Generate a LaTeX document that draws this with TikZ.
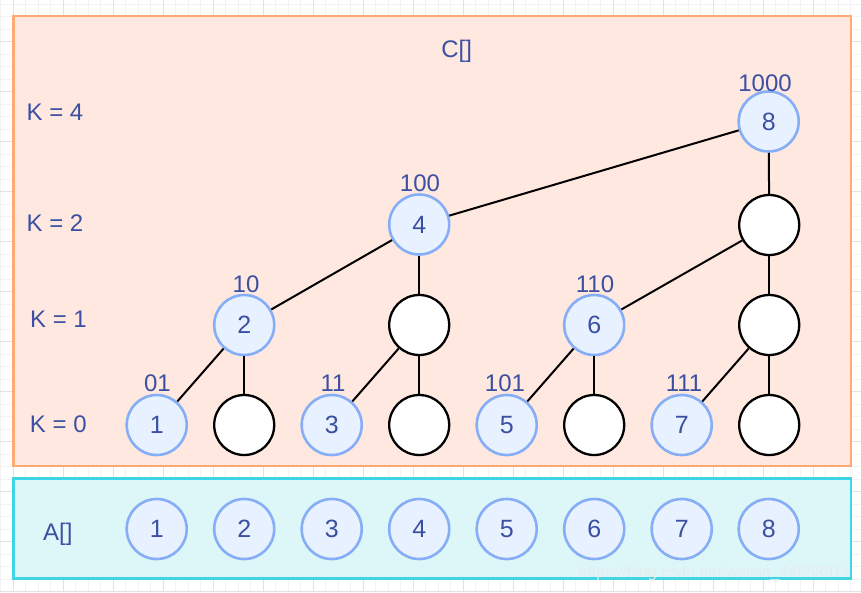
\documentclass[tikz,border=0pt]{standalone}
\usepackage{fontspec}
\setmainfont{Liberation Sans}
\definecolor{tcol}{HTML}{3B50A2}
\definecolor{bfill}{HTML}{E8F1FF}
\definecolor{bstroke}{HTML}{86AEF6}
\definecolor{ofill}{HTML}{FFE8E0}
\definecolor{ostroke}{HTML}{FFAA72}
\definecolor{cfill}{HTML}{DDF6F7}
\definecolor{cstroke}{HTML}{3FD5E5}
\definecolor{gminor}{HTML}{F3F3F3}
\definecolor{gmajor}{HTML}{E2E2E2}
\definecolor{wmcol}{HTML}{E6ECEE}
\begin{document}
\begin{tikzpicture}[x=1pt,y=-1pt,
  bnode/.style={circle,draw=bstroke,fill=bfill,line width=2.6pt,minimum size=60pt,inner sep=0pt,text=tcol,font=\fontsize{25}{29}\selectfont},
  wnode/.style={circle,draw=black,fill=white,line width=2.3pt,minimum size=60pt,inner sep=0pt},
  lbl/.style={text=tcol,font=\fontsize{24}{28}\selectfont,anchor=base,inner sep=0pt},
  edge/.style={draw=black,line width=2pt}]
\useasboundingbox (0,0) rectangle (861,592);
\fill[white] (0,0) rectangle (861,592);
% grid
\foreach \k in {0,...,68} {\draw[gminor,line width=1pt] (0.8+12.5*\k,0) -- (0.8+12.5*\k,592);}
\foreach \k in {0,...,47} {\draw[gminor,line width=1pt] (0,4.2+12.5*\k) -- (861,4.2+12.5*\k);}
\foreach \k in {0,...,16} {\draw[gmajor,line width=1pt] (13.3+50*\k,0) -- (13.3+50*\k,592);}
\foreach \k in {0,...,11} {\draw[gmajor,line width=1pt] (0,41.7+50*\k) -- (861,41.7+50*\k);}
% boxes
\draw[ostroke,fill=ofill,line width=2.6pt] (13.3,16) rectangle (850.8,465.8);
\draw[cstroke,fill=cfill,line width=2.6pt] (13.3,478.5) rectangle (850.8,578.3);
% tree nodes
\node[bnode] (c8) at (768.7,121.5) {8};
\node[wnode] (w2) at (769.2,225) {};
\node[bnode] (c4) at (419.2,224.5) {4};
\node[bnode] (c2) at (244.2,325) {2};
\node[wnode] (w1a) at (419.2,325) {};
\node[bnode] (c6) at (594.2,325) {6};
\node[wnode] (w1b) at (769.2,325) {};
\node[bnode] (c1) at (156.7,425) {1};
\node[wnode] (w0a) at (244.2,425) {};
\node[bnode] (c3) at (331.7,425) {3};
\node[wnode] (w0b) at (419.2,425) {};
\node[bnode] (c5) at (506.7,425) {5};
\node[wnode] (w0c) at (594.2,425) {};
\node[bnode] (c7) at (681.7,425) {7};
\node[wnode] (w0d) at (769.2,425) {};
% edges
\draw[edge] (c8) -- (w2);
\draw[edge] (c8) -- (c4);
\draw[edge] (c4) -- (c2);
\draw[edge] (c4) -- (w1a);
\draw[edge] (w2) -- (c6);
\draw[edge] (w2) -- (w1b);
\draw[edge] (c2) -- (c1);
\draw[edge] (c2) -- (w0a);
\draw[edge] (w1a) -- (c3);
\draw[edge] (w1a) -- (w0b);
\draw[edge] (c6) -- (c5);
\draw[edge] (c6) -- (w0c);
\draw[edge] (w1b) -- (c7);
\draw[edge] (w1b) -- (w0d);
% binary labels
\node[lbl] (l1000) at (765,91.7) {1000};
\node[lbl] (l100) at (420,191.7) {100};
\node[lbl] (l10) at (246,292.5) {10};
\node[lbl] (l110) at (595,292.5) {110};
\node[lbl] (l01) at (157.5,391.7) {01};
\node[lbl] (l11) at (333,391.7) {11};
\node[lbl] (l101) at (505,391.7) {101};
\node[lbl] (l111) at (684,391.7) {111};
% left labels
\node[lbl] (k4) at (55,120) {K = 4};
\node[lbl] (k2) at (55,231) {K = 2};
\node[lbl] (k1) at (58.5,327) {K = 1};
\node[lbl] (k0) at (58.3,432.3) {K = 0};
\node[lbl] (la) at (57.8,540) {A[]};
\node[lbl] (lc) at (456.7,57.3) {C[]};
% A row
\foreach \i/\x in {1/156.7,2/244.2,3/331.7,4/419.2,5/506.7,6/594.2,7/681.7,8/768.7}
  {\node[bnode] (a\i) at (\x,529) {\i};}
% watermark
\node[anchor=base east,inner sep=0pt,text=wmcol,font=\fontsize{16}{18}\selectfont] (wm) at (851,577) {https://blog.csdn.net/weixin\_44653914};
\end{tikzpicture}
\end{document}
